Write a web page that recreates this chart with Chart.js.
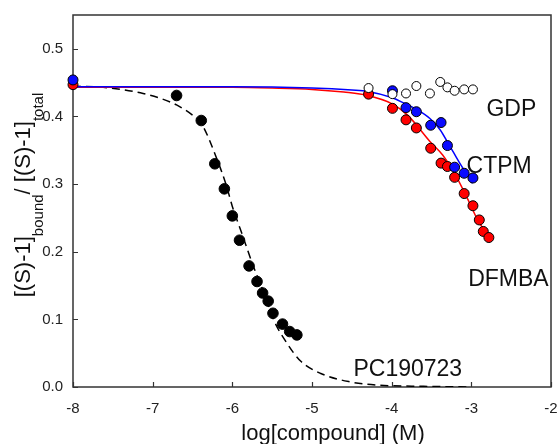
<!DOCTYPE html>
<html>
<head>
<meta charset="utf-8">
<script src="https://cdn.jsdelivr.net/npm/chart.js@4.4.0/dist/chart.umd.min.js"></script>
<style>
    html, body { margin: 0; padding: 0; background: #fff; }
</style>
</head>
<body>
<canvas id="chart" width="558" height="444"></canvas>
<script>
// Data (x = log[compound] (M), y = bound fraction)
const xTicks = [-8, -7, -6, -5, -4, -3, -2];
const yTicks = [0.0, 0.1, 0.2, 0.3, 0.4, 0.5];

const pcX = [-6.70, -6.39, -6.22, -6.10, -6.00, -5.91, -5.79, -5.69, -5.62, -5.55, -5.49, -5.37, -5.28, -5.19];
const pcY = [0.431, 0.394, 0.330, 0.293, 0.253, 0.217, 0.179, 0.156, 0.139, 0.127, 0.109, 0.093, 0.082, 0.077];

const ctpmX = [-8.00, -3.99, -3.82, -3.69, -3.51, -3.38, -3.30, -3.21, -3.09, -2.98];
const ctpmY = [0.454, 0.438, 0.413, 0.407, 0.387, 0.391, 0.357, 0.325, 0.316, 0.309];

const dfmbaX = [-8.00, -4.29, -3.99, -3.82, -3.69, -3.51, -3.38, -3.30, -3.21, -3.09, -2.98, -2.90, -2.85, -2.78];
const dfmbaY = [0.447, 0.433, 0.412, 0.395, 0.383, 0.353, 0.331, 0.326, 0.310, 0.286, 0.268, 0.247, 0.230, 0.221];

const gdpX = [-4.29, -3.99, -3.82, -3.69, -3.52, -3.39, -3.30, -3.21, -3.09, -2.98];
const gdpY = [0.442, 0.433, 0.434, 0.445, 0.434, 0.451, 0.443, 0.438, 0.440, 0.440];

// Fitted curves
const pcFitX = [-8.00, -7.53, -7.12, -6.91, -6.70, -6.50, -6.39, -6.19, -6.07, -6.00, -5.88, -5.75, -5.60, -5.48, -5.31, -5.14, -4.89, -4.54, -4.20, -3.60, -3.00];
const pcFitY = [0.445, 0.442, 0.434, 0.427, 0.417, 0.402, 0.390, 0.336, 0.296, 0.267, 0.227, 0.183, 0.138, 0.099, 0.064, 0.038, 0.020, 0.008, 0.003, 0.001, 0.000];

const ctpmFitX = [-8.00, -6.00, -5.00, -4.50, -4.30, -4.00, -3.85, -3.68, -3.52, -3.39, -3.28, -3.22, -3.13, -2.985];
const ctpmFitY = [0.444, 0.444, 0.442, 0.439, 0.437, 0.428, 0.420, 0.410, 0.397, 0.380, 0.358, 0.346, 0.328, 0.301];

const dfmbaFitX = [-8.00, -6.00, -5.50, -5.00, -4.60, -4.30, -4.00, -3.80, -3.52, -3.36, -3.21, -3.05, -2.92, -2.78];
const dfmbaFitY = [0.443, 0.443, 0.442, 0.440, 0.436, 0.431, 0.419, 0.402, 0.363, 0.343, 0.316, 0.279, 0.247, 0.222];

// Text labels beside the curves, anchored in data coordinates
const seriesNames = ['GDP', 'CTPM', 'DFMBA', 'PC190723'];
const nameAnchorX = [-2.81, -3.06, -3.04, -4.48];
const nameAnchorY = [0.410, 0.326, 0.159, 0.025];

const FONT = "'Liberation Sans', Arial, Helvetica, sans-serif";

function toPoints(xs, ys) {
    return xs.map((x, i) => ({ x: x, y: ys[i] }));
}

function pointSet(xs, ys, fill, radius, order) {
    return {
        data: toPoints(xs, ys),
        backgroundColor: fill,
        borderColor: '#000',
        borderWidth: 1,
        pointRadius: radius,
        pointHoverRadius: radius,
        showLine: false,
        clip: false,
        order: order
    };
}

function lineSet(xs, ys, color, dash, order) {
    return {
        data: toPoints(xs, ys),
        borderColor: color,
        backgroundColor: color,
        borderWidth: 1.5,
        borderDash: dash,
        pointRadius: 0,
        showLine: true,
        fill: false,
        cubicInterpolationMode: 'monotone',
        order: order
    };
}

// Frame, inward tick marks, axis titles and curve names
const decorPlugin = {
    id: 'decor',
    beforeDatasetsDraw(chart) {
        const ctx = chart.ctx;
        const a = chart.chartArea;
        const xs = chart.scales.x;
        const ys = chart.scales.y;
        ctx.save();
        ctx.strokeStyle = '#333';
        ctx.lineWidth = 1.5;
        ctx.strokeRect(a.left, a.top, a.right - a.left, a.bottom - a.top);
        ctx.lineWidth = 1.2;
        ctx.beginPath();
        xTicks.forEach(v => {
            const px = Math.round(xs.getPixelForValue(v)) + 0.5;
            ctx.moveTo(px, a.bottom);
            ctx.lineTo(px, a.bottom - 5);
        });
        yTicks.forEach(v => {
            const py = Math.round(ys.getPixelForValue(v)) + 0.5;
            ctx.moveTo(a.left, py);
            ctx.lineTo(a.left + 5, py);
        });
        ctx.stroke();
        ctx.restore();
    },
    afterDraw(chart) {
        const ctx = chart.ctx;
        const xs = chart.scales.x;
        const ys = chart.scales.y;
        ctx.save();
        ctx.fillStyle = '#111';

        // curve names
        ctx.font = '23px ' + FONT;
        ctx.textAlign = 'left';
        ctx.textBaseline = 'middle';
        seriesNames.forEach((name, i) => {
            ctx.fillText(name, xs.getPixelForValue(nameAnchorX[i]), ys.getPixelForValue(nameAnchorY[i]));
        });

        // x title
        ctx.font = '22px ' + FONT;
        ctx.textAlign = 'center';
        ctx.textBaseline = 'alphabetic';
        ctx.fillText('log[compound] (M)', 333, 440);

        // y title with subscripts, rotated
        const parts = [
            { t: '[(S)-1]', sub: false },
            { t: 'bound', sub: true },
            { t: '/ [(S)-1]', sub: false },
            { t: 'total', sub: true }
        ];
        const mainFont = '22px ' + FONT;
        const subFont = '15px ' + FONT;
        let total = 0;
        parts.forEach(p => {
            ctx.font = p.sub ? subFont : mainFont;
            p.w = ctx.measureText(p.t).width;
            total += p.w;
        });
        ctx.translate(30, 195);
        ctx.rotate(-Math.PI / 2);
        ctx.textAlign = 'left';
        let cx = -total / 2;
        parts.forEach(p => {
            ctx.font = p.sub ? subFont : mainFont;
            ctx.fillText(p.t, cx, p.sub ? 13 : 0);
            cx += p.w;
        });
        ctx.restore();
    }
};

const ctx = document.getElementById('chart').getContext('2d');
new Chart(ctx, {
    type: 'scatter',
    data: {
        datasets: [
            pointSet(gdpX, gdpY, '#ffffff', 4.5, 0),
            pointSet(pcX, pcY, '#000000', 5.3, 1),
            pointSet(ctpmX, ctpmY, '#0a0aff', 5, 2),
            pointSet(dfmbaX, dfmbaY, '#ff0000', 5, 3),
            lineSet(ctpmFitX, ctpmFitY, '#0000ff', [], 4),
            lineSet(dfmbaFitX, dfmbaFitY, '#ff0000', [], 5),
            lineSet(pcFitX, pcFitY, '#000000', [8, 5], 6)
        ]
    },
    options: {
        responsive: false,
        animation: false,
        layout: { padding: { top: 15, right: 7, left: 0, bottom: 0 } },
        plugins: {
            legend: { display: false },
            tooltip: { enabled: false }
        },
        scales: {
            x: {
                type: 'linear',
                min: -8,
                max: -2,
                afterBuildTicks: axis => { axis.ticks = xTicks.map(v => ({ value: v })); },
                afterFit: axis => {
                    axis.height = 57;
                    axis.paddingLeft = 0;
                    axis.paddingRight = 0;
                },
                grid: { display: false, drawTicks: false },
                border: { display: false },
                ticks: {
                    color: '#222',
                    padding: 13,
                    font: { family: FONT, size: 15 },
                    callback: v => String(v)
                }
            },
            y: {
                type: 'linear',
                min: 0,
                max: 0.55,
                afterBuildTicks: axis => { axis.ticks = yTicks.map(v => ({ value: v })); },
                afterFit: axis => {
                    axis.width = 73;
                    axis.paddingTop = 0;
                    axis.paddingBottom = 0;
                },
                grid: { display: false, drawTicks: false },
                border: { display: false },
                ticks: {
                    color: '#222',
                    padding: 10,
                    font: { family: FONT, size: 15 },
                    callback: v => v.toFixed(1)
                }
            }
        }
    },
    plugins: [decorPlugin]
});
</script>
</body>
</html>
